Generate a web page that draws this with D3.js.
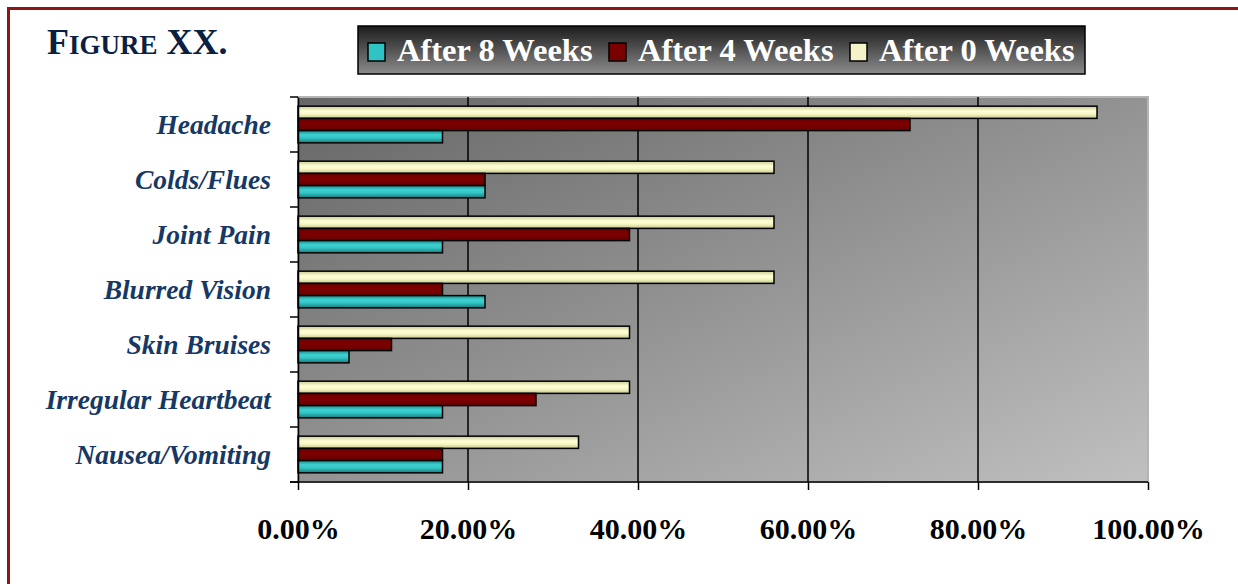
<!DOCTYPE html>
<html>
<head>
<meta charset="utf-8">
<script src="https://cdn.jsdelivr.net/npm/d3@7"></script>
<style>
  body { margin: 0; background: #fff; }
  svg { display: block; }
</style>
</head>
<body>
<div id="container"></div>
<script>
const w = 1238;
const h = 584;

// data (percent)
const categories = ["Headache", "Colds/Flues", "Joint Pain", "Blurred Vision", "Skin Bruises", "Irregular Heartbeat", "Nausea/Vomiting"];
const after0 = [94, 56, 56, 56, 39, 39, 33];
const after4 = [72, 22, 39, 17, 11, 28, 17];
const after8 = [17, 22, 17, 22, 6, 17, 17];
const seriesNames = ["After 8 Weeks", "After 4 Weeks", "After 0 Weeks"];
const xTicks = [0, 20, 40, 60, 80, 100];

const plot = { left: 298, right: 1148, top: 97, bottom: 482 };

const svg = d3.select("#container").append("svg")
  .attr("width", w).attr("height", h);
const defs = svg.append("defs");

// gradients
const bg = defs.append("linearGradient").attr("id", "plotbg")
  .attr("x1", 0).attr("y1", 0).attr("x2", 1).attr("y2", 1);
bg.append("stop").attr("offset", "0%").attr("stop-color", "#666666");
bg.append("stop").attr("offset", "100%").attr("stop-color", "#c0c0c0");

const lg = defs.append("linearGradient").attr("id", "legbg")
  .attr("x1", 0).attr("y1", 0).attr("x2", 0).attr("y2", 1);
lg.append("stop").attr("offset", "0%").attr("stop-color", "#1c1c1c");
lg.append("stop").attr("offset", "100%").attr("stop-color", "#8c8c8c");

function barGrad(id, stops) {
  const g = defs.append("linearGradient").attr("id", id)
    .attr("x1", 0).attr("y1", 0).attr("x2", 0).attr("y2", 1);
  stops.forEach(s => g.append("stop").attr("offset", s[0]).attr("stop-color", s[1]));
}
barGrad("g8", [["0%", "#1b8c8c"], ["35%", "#3fd2d2"], ["60%", "#33c4c4"], ["100%", "#167a7a"]]);
barGrad("g4", [["0%", "#6a0000"], ["40%", "#7e0000"], ["100%", "#6a0000"]]);
barGrad("g0", [["0%", "#c9c98f"], ["40%", "#ffffd8"], ["65%", "#f6f6c4"], ["100%", "#c4c488"]]);

const fills = { "After 8 Weeks": "url(#g8)", "After 4 Weeks": "url(#g4)", "After 0 Weeks": "url(#g0)" };
const swatch = { "After 8 Weeks": "#2fc4c4", "After 4 Weeks": "#7a0000", "After 0 Weeks": "#f4f4c8" };

// outer frame
svg.append("rect")
  .attr("x", 8.5).attr("y", 8.5).attr("width", w + 20).attr("height", h + 20)
  .attr("fill", "none").attr("stroke", "#8e1616").attr("stroke-width", 3);

// title (small caps)
const title = svg.append("text")
  .attr("x", 47).attr("y", 54)
  .attr("font-family", "Liberation Serif, Times New Roman, serif")
  .attr("font-weight", "bold")
  .attr("fill", "#0a2040");
title.append("tspan").attr("font-size", 36).text("F");
title.append("tspan").attr("font-size", 27).text("IGURE");
title.append("tspan").attr("font-size", 36).text(" XX.");

// scales
const x = d3.scaleLinear().domain([0, 100]).range([plot.left, plot.right]);
const y = d3.scaleBand().domain(categories).range([plot.top, plot.bottom]);
const ySub = d3.scaleBand().domain(["After 0 Weeks", "After 4 Weeks", "After 8 Weeks"])
  .range([0, y.bandwidth()]).paddingOuter(0.75);

// plot background
svg.append("rect")
  .attr("x", plot.left).attr("y", plot.top)
  .attr("width", plot.right - plot.left).attr("height", plot.bottom - plot.top)
  .attr("fill", "url(#plotbg)")
  .attr("stroke", "#b4b4b4").attr("stroke-width", 2);

// grid lines
svg.append("g").selectAll("line").data(xTicks.filter(d => d > 0 && d < 100)).enter().append("line")
  .attr("x1", d => x(d)).attr("x2", d => x(d))
  .attr("y1", plot.top).attr("y2", plot.bottom)
  .attr("stroke", "#000").attr("stroke-width", 1.5);

// bars
const rows = categories.map((c, i) => ({
  cat: c,
  vals: [
    { key: "After 0 Weeks", v: after0[i] },
    { key: "After 4 Weeks", v: after4[i] },
    { key: "After 8 Weeks", v: after8[i] }
  ]
}));
const grp = svg.append("g").selectAll("g").data(rows).enter().append("g")
  .attr("transform", d => "translate(0," + y(d.cat) + ")");
grp.selectAll("rect").data(d => d.vals).enter().append("rect")
  .attr("x", x(0))
  .attr("y", d => ySub(d.key))
  .attr("width", d => x(d.v) - x(0))
  .attr("height", ySub.bandwidth())
  .attr("fill", d => fills[d.key])
  .attr("stroke", "#000").attr("stroke-width", 1.5);

// y axis
const yAxis = d3.axisLeft(y).tickSize(0).tickFormat("");
svg.append("g").attr("transform", "translate(" + plot.left + ",0)").call(yAxis)
  .call(g => g.select(".domain").attr("stroke", "#000").attr("stroke-width", 1.5));
// ticks on the band edges
const edges = categories.map(c => y(c)).concat([plot.bottom]);
svg.append("g").selectAll("line").data(edges).enter().append("line")
  .attr("x1", plot.left - 8).attr("x2", plot.left)
  .attr("y1", d => d).attr("y2", d => d)
  .attr("stroke", "#000").attr("stroke-width", 1.5);

// category labels
svg.append("g").selectAll("text").data(categories).enter().append("text")
  .attr("x", 271)
  .attr("y", d => y(d) + y.bandwidth() / 2)
  .attr("dy", "0.33em")
  .attr("text-anchor", "end")
  .attr("font-family", "Liberation Serif, Times New Roman, serif")
  .attr("font-weight", "bold").attr("font-style", "italic")
  .attr("font-size", 27.5)
  .attr("fill", "#163865")
  .text(d => d);

// x axis
const xAxis = d3.axisBottom(x).tickValues(xTicks).tickSize(8).tickPadding(28)
  .tickFormat(d => d.toFixed(2) + "%");
const xg = svg.append("g").attr("transform", "translate(0," + plot.bottom + ")").call(xAxis);
xg.select(".domain").remove();
xg.append("line").attr("x1", plot.left - 8).attr("x2", plot.right)
  .attr("stroke", "#000").attr("stroke-width", 1.5);
xg.selectAll(".tick line").attr("stroke", "#000").attr("stroke-width", 1.5);
xg.selectAll(".tick text")
  .attr("font-family", "Liberation Serif, Times New Roman, serif")
  .attr("font-weight", "bold").attr("font-size", 30).attr("fill", "#000");

// legend
const legend = svg.append("g").attr("transform", "translate(358,26)");
legend.append("rect").attr("width", 727).attr("height", 48)
  .attr("fill", "url(#legbg)").attr("stroke", "#000").attr("stroke-width", 1.5);
const item = legend.selectAll("g.item").data(seriesNames).enter().append("g")
  .attr("class", "item")
  .attr("transform", (d, i) => "translate(" + (10 + i * 241) + ",0)");
item.append("rect").attr("y", 17).attr("width", 17).attr("height", 18)
  .attr("fill", d => swatch[d]).attr("stroke", "#000").attr("stroke-width", 1.5);
item.append("text").attr("x", 29).attr("y", 35)
  .attr("font-family", "Liberation Serif, Times New Roman, serif")
  .attr("font-weight", "bold").attr("font-size", 32.5).attr("fill", "#fff")
  .text(d => d);
</script>
</body>
</html>
